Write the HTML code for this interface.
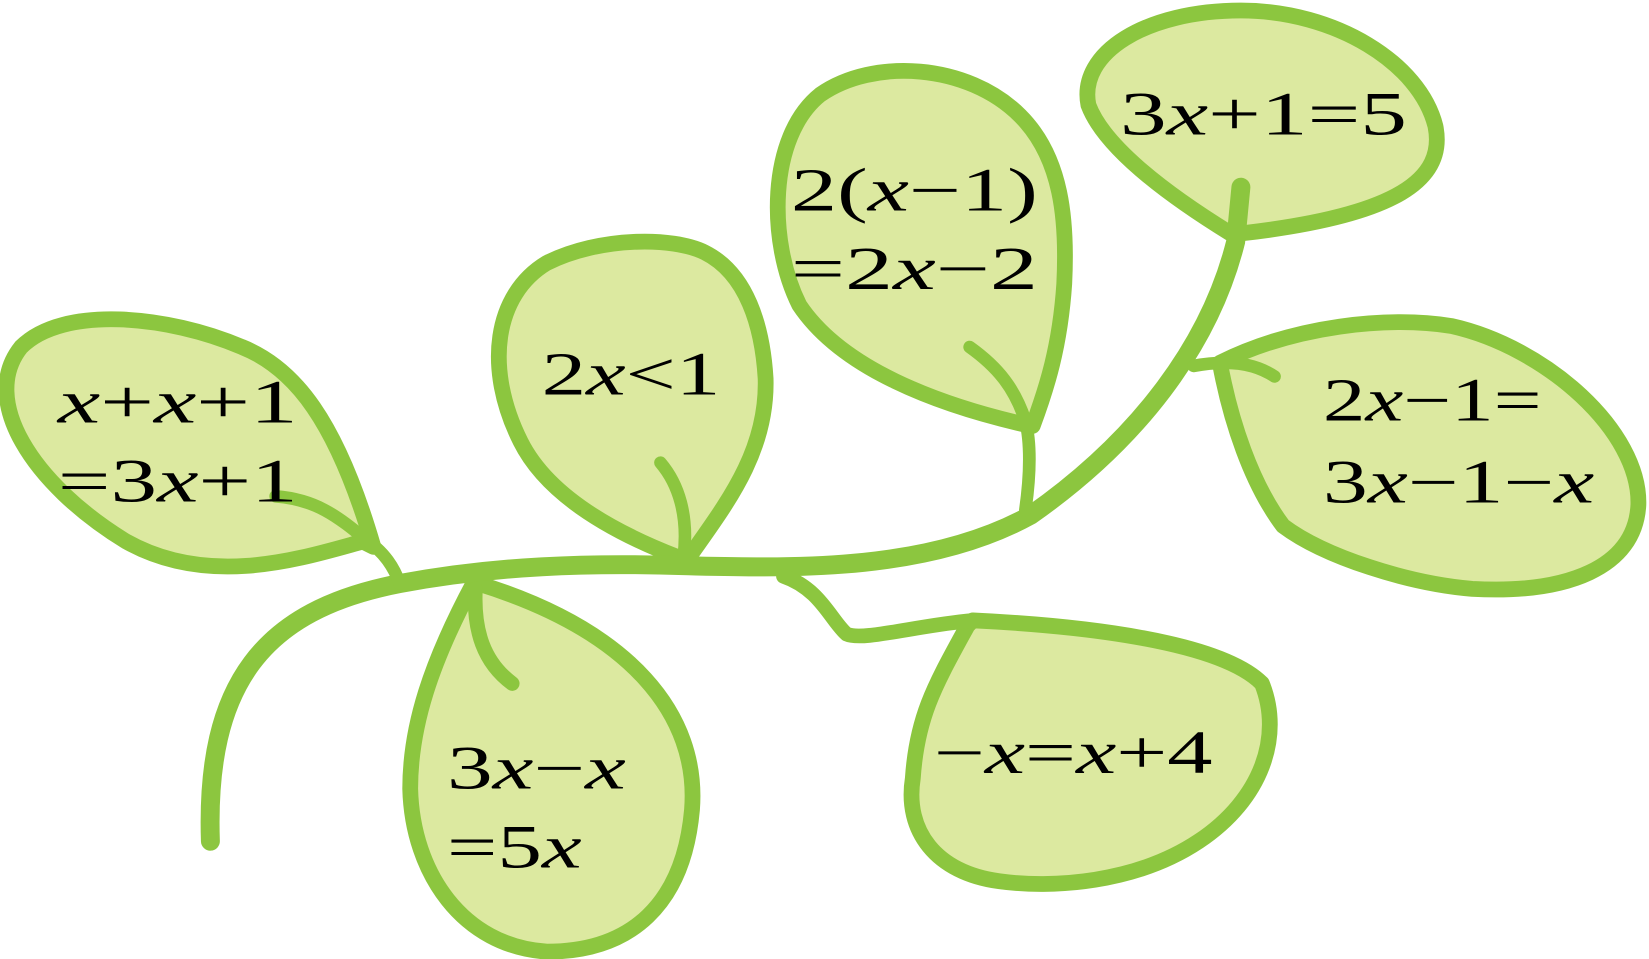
<!DOCTYPE html>
<html><head><meta charset="utf-8"><style>
html,body{margin:0;padding:0;background:#fff;}
svg{display:block}
text{font-family:"Liberation Serif",serif;font-size:58px;fill:#000}
.i{font-style:italic}
</style></head><body>
<svg width="1649" height="959" viewBox="0 0 1568 912" xmlns="http://www.w3.org/2000/svg">
<g fill="#dce9a0" stroke="#8cc63f" stroke-width="15" stroke-linejoin="round" stroke-linecap="round">
<path d="M355,520 C320,400 280,350 230,330 C160,300 60,290 20,330 C-20,380 30,460 120,515 C200,560 290,530 345,515 Z"/>
<path d="M645,530 C580,505 520,470 495,420 C460,350 470,280 520,250 C570,225 640,225 670,240 C710,260 725,310 728,360 C730,430 690,480 655,530 Z"/>
<path d="M980,405 C890,385 800,350 760,290 C730,230 730,130 780,90 C830,55 920,60 970,110 C1010,150 1015,210 1012,270 C1008,330 995,370 982,405 Z"/>
<path d="M1170,222 C1110,185 1050,140 1035,100 C1025,50 1090,10 1180,10 C1270,10 1350,60 1365,120 C1375,170 1330,205 1180,222 Z"/>
<path d="M1160,345 C1230,310 1320,300 1380,310 C1470,330 1560,410 1558,480 C1555,540 1490,565 1400,560 C1340,555 1260,530 1220,500 C1190,460 1170,400 1160,345 Z"/>
<path d="M450,555 C410,630 390,690 390,750 C392,830 440,900 520,905 C600,905 650,860 658,770 C665,680 600,600 455,555 Z"/>
<path d="M925,590 C1030,595 1160,610 1200,650 C1220,700 1200,760 1140,800 C1080,840 1000,845 950,838 C890,830 860,790 868,740 C872,680 890,650 920,595 Z"/>
</g>
<g fill="none" stroke="#8cc63f" stroke-linecap="round">
<path stroke-width="18" d="M200,800 C195,650 250,580 380,555 C470,538 560,535 650,538 C750,540 880,545 980,490 C1080,420 1150,330 1175,230 L1180,178"/>
<path stroke-width="14" d="M745,548 C780,560 790,590 805,603 C820,610 870,595 925,590"/>
<path stroke-width="12" d="M380,555 C375,540 365,525 350,515 C320,490 300,475 262,472"/>
<path stroke-width="12" d="M650,530 C655,490 645,460 628,440"/>
<path stroke-width="12" d="M975,485 C980,450 980,420 975,400 C965,370 950,350 922,330"/>
<path stroke-width="12" d="M1135,348 C1150,345 1160,345 1165,345 C1185,345 1200,350 1212,358"/>
<path stroke-width="14" d="M452,560 C450,600 460,630 487,650"/>
</g>
<text x="55" y="402" textLength="228" lengthAdjust="spacingAndGlyphs"><tspan class="i">x</tspan>+<tspan class="i">x</tspan>+1</text>
<text x="55" y="477" textLength="228" lengthAdjust="spacingAndGlyphs">=3<tspan class="i">x</tspan>+1</text>
<text x="515" y="375" textLength="170" lengthAdjust="spacingAndGlyphs">2<tspan class="i">x</tspan>&lt;1</text>
<text x="752" y="200" textLength="235" lengthAdjust="spacingAndGlyphs">2(<tspan class="i">x</tspan>−1)</text>
<text x="752" y="275" textLength="235" lengthAdjust="spacingAndGlyphs">=2<tspan class="i">x</tspan>−2</text>
<text x="1065" y="128" textLength="273" lengthAdjust="spacingAndGlyphs">3<tspan class="i">x</tspan>+1=5</text>
<text x="1258" y="400" textLength="208" lengthAdjust="spacingAndGlyphs">2<tspan class="i">x</tspan>−1=</text>
<text x="1258" y="478" textLength="258" lengthAdjust="spacingAndGlyphs">3<tspan class="i">x</tspan>−1−<tspan class="i">x</tspan></text>
<text x="425" y="750" textLength="170" lengthAdjust="spacingAndGlyphs">3<tspan class="i">x</tspan>−<tspan class="i">x</tspan></text>
<text x="425" y="825" textLength="128" lengthAdjust="spacingAndGlyphs">=5<tspan class="i">x</tspan></text>
<text x="888" y="735" textLength="265" lengthAdjust="spacingAndGlyphs">−<tspan class="i">x</tspan>=<tspan class="i">x</tspan>+4</text>
</svg>
</body></html>
